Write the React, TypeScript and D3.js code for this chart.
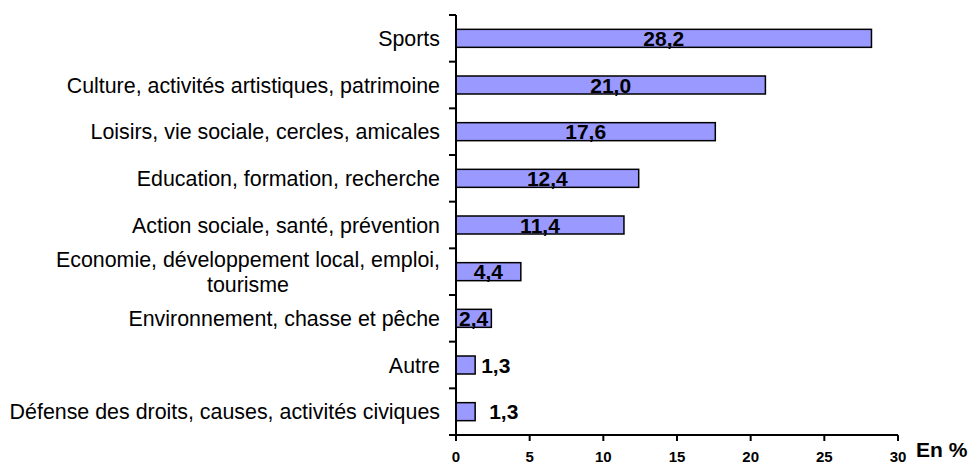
import React, { useEffect, useRef } from 'react';
import * as d3 from 'd3';

const categories: string[][] = [
  ['Sports'],
  ['Culture, activités artistiques, patrimoine'],
  ['Loisirs, vie sociale, cercles, amicales'],
  ['Education, formation, recherche'],
  ['Action sociale, santé, prévention'],
  ['Economie, développement local, emploi,', 'tourisme'],
  ['Environnement, chasse et pêche'],
  ['Autre'],
  ['Défense des droits, causes, activités civiques'],
];
const values = [28.2, 21.0, 17.6, 12.4, 11.4, 4.4, 2.4, 1.3, 1.3];
const labels = ['28,2', '21,0', '17,6', '12,4', '11,4', '4,4', '2,4', '1,3', '1,3'];
// small bars carry their label outside, shifted right by this many px
const outsideShift = [0, 0, 0, 0, 0, 0, 0, 0, 8];
const xTicks = [0, 5, 10, 15, 20, 25, 30];

const W = 970;
const H = 464;
const FONT = 'Liberation Sans, Arial, sans-serif';

const App: React.FC = () => {
  const svgRef = useRef<SVGSVGElement>(null);

  useEffect(() => {
    if (!svgRef.current) return;
    const svg = d3.select(svgRef.current);
    svg.selectAll('*').remove();

    const left = 456, right = 898, top = 15, bottom = 435;

    const x = d3.scaleLinear().domain([0, 30]).range([left, right]);
    const y = d3.scaleBand<number>()
      .domain(d3.range(categories.length))
      .range([top, bottom]);

    const barH = 18;

    // bars
    svg.append('g')
      .selectAll('rect')
      .data(values)
      .enter()
      .append('rect')
      .attr('x', x(0))
      .attr('y', (_, i) => y(i)! + y.bandwidth() / 2 - barH / 2)
      .attr('width', d => x(d) - x(0))
      .attr('height', barH)
      .attr('fill', '#9999ff')
      .attr('stroke', '#000')
      .attr('stroke-width', 1.5);

    // value labels
    svg.append('g')
      .selectAll('text')
      .data(values)
      .enter()
      .append('text')
      .attr('x', (d, i) => d < 2 ? x(d) + 6 + outsideShift[i] : (x(0) + x(d)) / 2)
      .attr('y', (_, i) => y(i)! + y.bandwidth() / 2)
      .attr('dy', '0.36em')
      .attr('text-anchor', d => d < 2 ? 'start' : 'middle')
      .attr('font-family', FONT)
      .attr('font-weight', 'bold')
      .attr('font-size', 21)
      .text((_, i) => labels[i]);

    // y axis
    const yAxis = svg.append('g');
    yAxis.append('line')
      .attr('x1', left).attr('x2', left)
      .attr('y1', top).attr('y2', bottom)
      .attr('stroke', '#000').attr('stroke-width', 2);
    yAxis.selectAll('line.tick')
      .data(d3.range(categories.length + 1))
      .enter()
      .append('line')
      .attr('class', 'tick')
      .attr('x1', left - 7).attr('x2', left)
      .attr('y1', i => top + i * y.step())
      .attr('y2', i => top + i * y.step())
      .attr('stroke', '#000').attr('stroke-width', 2);

    // category labels
    const cat = svg.append('g')
      .selectAll('text')
      .data(categories)
      .enter()
      .append('text')
      .attr('font-family', FONT)
      .attr('font-size', 21.4)
      .attr('fill', '#000')
      .attr('text-anchor', 'middle')
      .attr('y', (_, i) => y(i)! + y.bandwidth() / 2);
    cat.each(function (lines) {
      const t = d3.select(this);
      const n = lines.length;
      lines.forEach((l, k) => {
        t.append('tspan')
          .attr('x', 0)
          .attr('dy', k === 0 ? `${0.36 - (n - 1) * 0.58}em` : '1.16em')
          .text(l);
      });
    });
    // right-align each label block to x=440, wrapped lines centered in it
    cat.each(function () {
      const node = this as SVGTextElement;
      const w = node.getBBox().width;
      d3.select(node).attr('transform', `translate(${440 - w / 2},0)`);
    });

    // x axis
    const xAxis = svg.append('g');
    xAxis.append('line')
      .attr('x1', left - 1).attr('x2', right)
      .attr('y1', bottom).attr('y2', bottom)
      .attr('stroke', '#000').attr('stroke-width', 2);
    xAxis.selectAll('line.tick')
      .data(xTicks)
      .enter()
      .append('line')
      .attr('x1', d => x(d)).attr('x2', d => x(d))
      .attr('y1', bottom).attr('y2', bottom + 6)
      .attr('stroke', '#000').attr('stroke-width', 2);
    xAxis.selectAll('text')
      .data(xTicks)
      .enter()
      .append('text')
      .attr('x', d => x(d))
      .attr('y', 462)
      .attr('text-anchor', 'middle')
      .attr('font-family', FONT)
      .attr('font-weight', 'bold')
      .attr('font-size', 15)
      .text(d => String(d));

    svg.append('text')
      .attr('x', 916)
      .attr('y', 457)
      .attr('font-family', FONT)
      .attr('font-weight', 'bold')
      .attr('font-size', 21)
      .text('En %');
  }, []);

  return (
    <svg
      ref={svgRef}
      width={W}
      height={H}
      style={{ position: 'absolute', left: 0, top: 0, background: '#fff' }}
    />
  );
};

export default App;
